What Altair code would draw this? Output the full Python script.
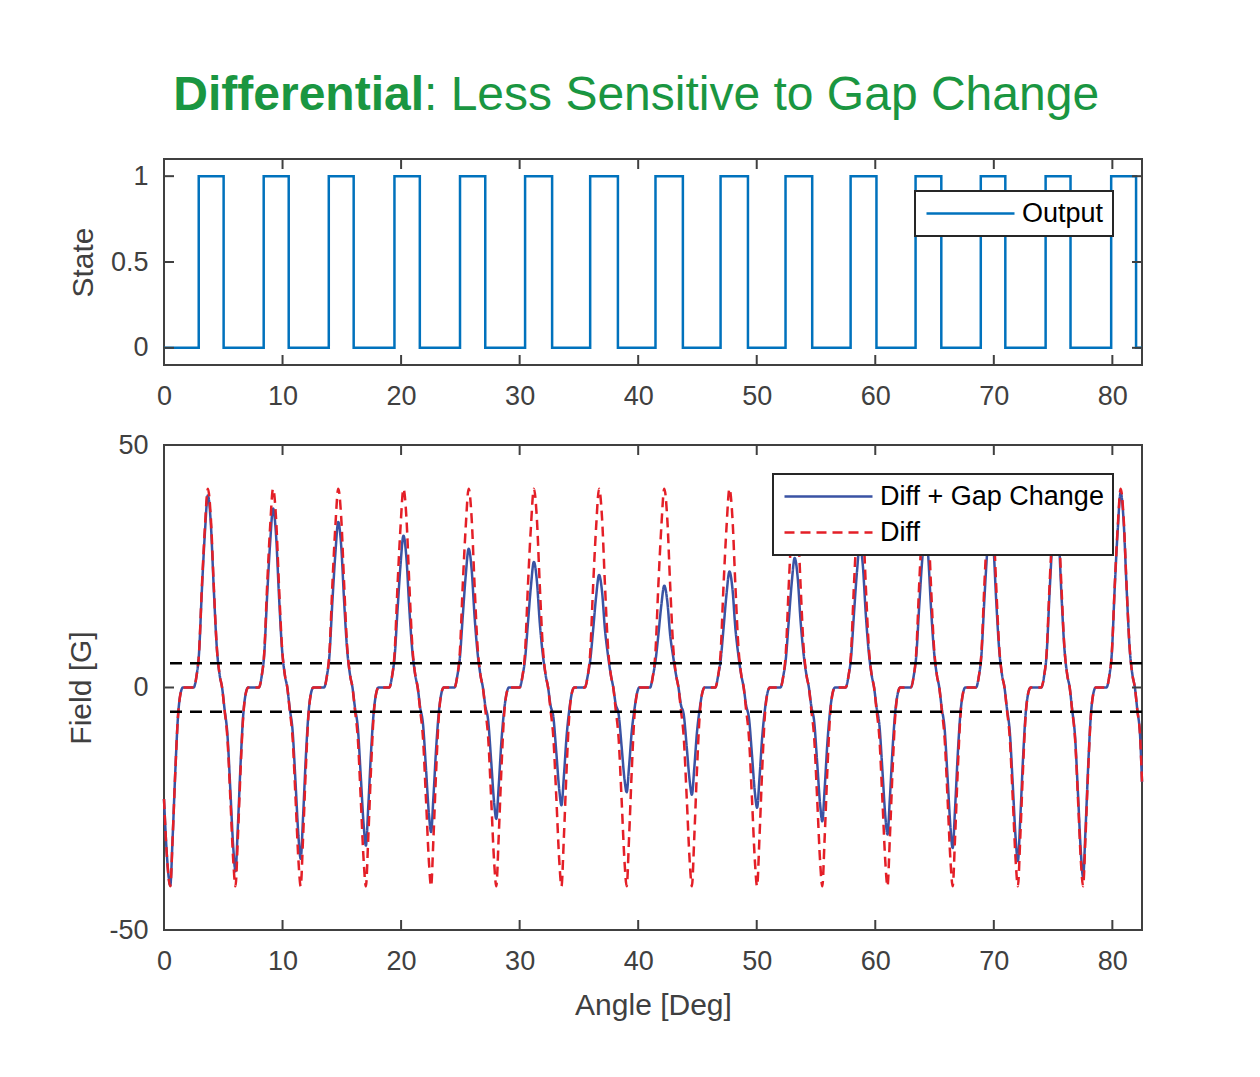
import altair as alt
import pandas as pd

FONT = "Liberation Sans"
AXIS_COLOR = "#404040"
TITLE_COLOR = "#1a9641"
OUT_BLUE = "#0072bd"
GAP_BLUE = "#3a53a4"
DIFF_RED = "#e41f27"

TITLE_BOLD = "Differential"
TITLE_REST = ": Less Sensitive to Gap Change"
X_TITLE = "Angle [Deg]"
TOP_Y_TITLE = "State"
BOT_Y_TITLE = "Field [G]"

SERIES_OUT = "Output"
SERIES_GAP = "Diff + Gap Change"
SERIES_DIFF = "Diff"

x_ticks = [0, 10, 20, 30, 40, 50, 60, 70, 80]
state_ticks = [0, 0.5, 1]
field_ticks = [-50, 0, 50]
thresholds = [5, -5]

# Output state (step)
state_angle = [0, 2.93, 5.03, 8.41, 10.52, 13.90, 16.00, 19.44, 21.58, 24.97, 27.10,
               30.46, 32.74, 35.95, 38.29, 41.46, 43.77, 46.95, 49.26, 52.43, 54.68,
               57.92, 60.10, 63.40, 65.57, 68.90, 70.97, 74.37, 76.47, 79.90, 82.00, 82.50]
state_value = [0, 1, 0, 1, 0, 1, 0, 1, 0, 1, 0, 1, 0, 1, 0, 1, 0, 1, 0, 1, 0,
               1, 0, 1, 0, 1, 0, 1, 0, 1, 0, 0]

# Field curves (one row per tooth cycle)
angle_rows = [
    [0, 0.25, 0.53, 0.73, 0.96, 1.18, 1.4, 1.6, 2.5, 2.75, 2.95, 3.2, 3.45],
    [3.7, 3.95, 4.2, 4.45, 4.7, 4.9, 5.1, 5.35, 5.6, 5.85, 6.03, 6.23, 6.46, 6.68, 6.9, 7.1, 8.0, 8.25, 8.45, 8.7, 8.95],
    [9.2, 9.45, 9.7, 9.95, 10.2, 10.4, 10.6, 10.85, 11.1, 11.35, 11.53, 11.73, 11.96, 12.18, 12.4, 12.6, 13.5, 13.75, 13.95, 14.2, 14.45],
    [14.7, 14.95, 15.2, 15.45, 15.7, 15.9, 16.1, 16.35, 16.6, 16.85, 17.03, 17.23, 17.46, 17.68, 17.9, 18.1, 19.0, 19.25, 19.45, 19.7, 19.95],
    [20.2, 20.45, 20.7, 20.95, 21.2, 21.4, 21.6, 21.85, 22.1, 22.35, 22.53, 22.73, 22.96, 23.18, 23.4, 23.6, 24.5, 24.75, 24.95, 25.2, 25.45],
    [25.7, 25.95, 26.2, 26.45, 26.7, 26.9, 27.1, 27.35, 27.6, 27.85, 28.03, 28.23, 28.46, 28.68, 28.9, 29.1, 30.0, 30.25, 30.45, 30.7, 30.95],
    [31.2, 31.45, 31.7, 31.95, 32.2, 32.4, 32.6, 32.85, 33.1, 33.35, 33.53, 33.73, 33.96, 34.18, 34.4, 34.6, 35.5, 35.75, 35.95, 36.2, 36.45],
    [36.7, 36.95, 37.2, 37.45, 37.7, 37.9, 38.1, 38.35, 38.6, 38.85, 39.03, 39.23, 39.46, 39.68, 39.9, 40.1, 41.0, 41.25, 41.45, 41.7, 41.95],
    [42.2, 42.45, 42.7, 42.95, 43.2, 43.4, 43.6, 43.85, 44.1, 44.35, 44.53, 44.73, 44.96, 45.18, 45.4, 45.6, 46.5, 46.75, 46.95, 47.2, 47.45],
    [47.7, 47.95, 48.2, 48.45, 48.7, 48.9, 49.1, 49.35, 49.6, 49.85, 50.03, 50.23, 50.46, 50.68, 50.9, 51.1, 52.0, 52.25, 52.45, 52.7, 52.95],
    [53.2, 53.45, 53.7, 53.95, 54.2, 54.4, 54.6, 54.85, 55.1, 55.35, 55.53, 55.73, 55.96, 56.18, 56.4, 56.6, 57.5, 57.75, 57.95, 58.2, 58.45],
    [58.7, 58.95, 59.2, 59.45, 59.7, 59.9, 60.1, 60.35, 60.6, 60.85, 61.03, 61.23, 61.46, 61.68, 61.9, 62.1, 63.0, 63.25, 63.45, 63.7, 63.95],
    [64.2, 64.45, 64.7, 64.95, 65.2, 65.4, 65.6, 65.85, 66.1, 66.35, 66.53, 66.73, 66.96, 67.18, 67.4, 67.6, 68.5, 68.75, 68.95, 69.2, 69.45],
    [69.7, 69.95, 70.2, 70.45, 70.7, 70.9, 71.1, 71.35, 71.6, 71.85, 72.03, 72.23, 72.46, 72.68, 72.9, 73.1, 74.0, 74.25, 74.45, 74.7, 74.95],
    [75.2, 75.45, 75.7, 75.95, 76.2, 76.4, 76.6, 76.85, 77.1, 77.35, 77.53, 77.73, 77.96, 78.18, 78.4, 78.6, 79.5, 79.75, 79.95, 80.2, 80.45],
    [80.7, 80.95, 81.2, 81.45, 81.7, 81.9, 82.1, 82.35, 82.5],
]

diff_rows = [
    [-23, -35, -41, -31, -17, -6, -1.2, 0, 0, 2.5, 7, 21, 33],
    [41, 35, 21, 8.5, 2.5, 0, -4.5, -10.5, -23, -36, -41, -31, -17, -6, -1.2, 0, 0, 2.5, 7, 21, 33],
    [41, 35, 21, 8.5, 2.5, 0, -4.5, -10.5, -23, -36, -41, -31, -17, -6, -1.2, 0, 0, 2.5, 7, 21, 33],
    [41, 35, 21, 8.5, 2.5, 0, -4.5, -10.5, -23, -36, -41, -31, -17, -6, -1.2, 0, 0, 2.5, 7, 21, 33],
    [41, 35, 21, 8.5, 2.5, 0, -4.5, -10.5, -23, -36, -41, -31, -17, -6, -1.2, 0, 0, 2.5, 7, 21, 33],
    [41, 35, 21, 8.5, 2.5, 0, -4.5, -10.5, -23, -36, -41, -31, -17, -6, -1.2, 0, 0, 2.5, 7, 21, 33],
    [41, 35, 21, 8.5, 2.5, 0, -4.5, -10.5, -23, -36, -41, -31, -17, -6, -1.2, 0, 0, 2.5, 7, 21, 33],
    [41, 35, 21, 8.5, 2.5, 0, -4.5, -10.5, -23, -36, -41, -31, -17, -6, -1.2, 0, 0, 2.5, 7, 21, 33],
    [41, 35, 21, 8.5, 2.5, 0, -4.5, -10.5, -23, -36, -41, -31, -17, -6, -1.2, 0, 0, 2.5, 7, 21, 33],
    [41, 35, 21, 8.5, 2.5, 0, -4.5, -10.5, -23, -36, -41, -31, -17, -6, -1.2, 0, 0, 2.5, 7, 21, 33],
    [41, 35, 21, 8.5, 2.5, 0, -4.5, -10.5, -23, -36, -41, -31, -17, -6, -1.2, 0, 0, 2.5, 7, 21, 33],
    [41, 35, 21, 8.5, 2.5, 0, -4.5, -10.5, -23, -36, -41, -31, -17, -6, -1.2, 0, 0, 2.5, 7, 21, 33],
    [41, 35, 21, 8.5, 2.5, 0, -4.5, -10.5, -23, -36, -41, -31, -17, -6, -1.2, 0, 0, 2.5, 7, 21, 33],
    [41, 35, 21, 8.5, 2.5, 0, -4.5, -10.5, -23, -36, -41, -31, -17, -6, -1.2, 0, 0, 2.5, 7, 21, 33],
    [41, 35, 21, 8.5, 2.5, 0, -4.5, -10.5, -23, -36, -41, -31, -17, -6, -1.2, 0, 0, 2.5, 7, 21, 33],
    [41, 35, 21, 8.5, 2.5, 0, -4.5, -10.5, -19.5],
]

gap_rows = [
    [-23, -34.8, -40.8, -30.8, -16.9, -6.0, -1.2, 0, 0, 2.5, 6.9, 20.3, 31.9],
    [39.6, 33.8, 20.3, 8.4, 2.5, 0, -4.3, -9.7, -21.3, -33.3, -37.9, -28.7, -15.7, -5.8, -1.2, 0, 0, 2.5, 6.7, 18.9, 29.7],
    [36.9, 31.5, 18.9, 8.1, 2.5, 0, -4.2, -9.0, -19.8, -31.0, -35.3, -26.7, -14.6, -5.6, -1.2, 0, 0, 2.5, 6.4, 17.5, 27.4],
    [34.1, 29.1, 17.5, 7.8, 2.5, 0, -4.0, -8.3, -18.3, -28.6, -32.6, -24.6, -13.5, -5.4, -1.2, 0, 0, 2.5, 6.2, 16.0, 25.2],
    [31.3, 26.7, 16.0, 7.5, 2.5, 0, -3.9, -7.6, -16.7, -26.2, -29.8, -22.5, -12.4, -5.2, -1.2, 0, 0, 2.5, 5.9, 14.6, 23.0],
    [28.6, 24.4, 14.6, 7.2, 2.5, 0, -3.7, -6.9, -15.2, -23.8, -27.1, -20.5, -11.2, -5.0, -1.2, 0, 0, 2.5, 5.7, 13.3, 20.8],
    [25.9, 22.1, 13.3, 6.9, 2.5, 0, -3.6, -6.2, -13.6, -21.3, -24.3, -18.4, -10.1, -4.8, -1.2, 0, 0, 2.5, 5.5, 11.9, 18.7],
    [23.2, 19.8, 11.9, 6.7, 2.5, 0, -3.4, -5.5, -12.1, -19.0, -21.6, -16.3, -9.0, -4.6, -1.2, 0, 0, 2.5, 5.3, 10.8, 16.9],
    [21.0, 17.9, 10.8, 6.4, 2.5, 0, -3.5, -5.7, -12.4, -19.4, -22.1, -16.7, -9.2, -4.6, -1.2, 0, 0, 2.5, 5.5, 12.2, 19.2],
    [23.9, 20.4, 12.2, 6.7, 2.5, 0, -3.6, -6.4, -13.9, -21.8, -24.8, -18.8, -10.3, -4.8, -1.2, 0, 0, 2.5, 5.8, 13.7, 21.5],
    [26.7, 22.8, 13.7, 7.0, 2.5, 0, -3.8, -7.1, -15.5, -24.2, -27.6, -20.9, -11.4, -5.0, -1.2, 0, 0, 2.5, 6.0, 15.1, 23.7],
    [29.5, 25.2, 15.1, 7.3, 2.5, 0, -3.9, -7.8, -17.0, -26.6, -30.3, -22.9, -12.6, -5.2, -1.2, 0, 0, 2.5, 6.3, 16.5, 26.0],
    [32.3, 27.6, 16.5, 7.6, 2.5, 0, -4.1, -8.5, -18.6, -29.1, -33.1, -25.0, -13.7, -5.4, -1.2, 0, 0, 2.5, 6.5, 18.0, 28.3],
    [35.1, 30.0, 18.0, 7.9, 2.5, 0, -4.2, -9.2, -20.1, -31.4, -35.8, -27.1, -14.8, -5.6, -1.2, 0, 0, 2.5, 6.7, 19.4, 30.5],
    [37.9, 32.4, 19.4, 8.2, 2.5, 0, -4.4, -10.0, -21.9, -34.3, -39.1, -29.6, -16.2, -5.9, -1.2, 0, 0, 2.5, 6.9, 20.6, 32.4],
    [40.2, 34.3, 20.6, 8.4, 2.5, 0, -4.5, -10.4, -19.5],
]

angle = [a for row in angle_rows for a in row]
diff = [v for row in diff_rows for v in row]
gap = [v for row in gap_rows for v in row]

W, H1, H2 = 978, 206, 485
TICK = 10

x_scale = alt.Scale(domain=[0, 82.5], nice=False, zero=False)
y1_scale = alt.Scale(domain=[-0.1, 1.1], nice=False, zero=False)
y2_scale = alt.Scale(domain=[-50, 50], nice=False, zero=False)

LABEL_EXPR = "'' + datum.value"

X_AXIS_TOP = alt.Axis(values=x_ticks, labelExpr=LABEL_EXPR, labelFlush=False,
                      labelPadding=18, title=None)
X_AXIS_BOT = alt.Axis(values=x_ticks, labelExpr=LABEL_EXPR, labelFlush=False,
                      labelPadding=18, title=X_TITLE, titlePadding=16)
Y_AXIS_TOP = alt.Axis(values=state_ticks, labelExpr=LABEL_EXPR, labelPadding=16,
                      title=TOP_Y_TITLE, titlePadding=12)
Y_AXIS_BOT = alt.Axis(values=field_ticks, labelExpr=LABEL_EXPR, labelPadding=16,
                      title=BOT_Y_TITLE, titlePadding=12)


def make_legend(lx, ly):
    return alt.Legend(title=None, orient="none", legendX=lx, legendY=ly,
                      symbolType="M-1,0H7", symbolSize=484, symbolStrokeWidth=2.5,
                      labelOffset=71, padding=9, rowPadding=8,
                      labelFont=FONT, labelFontSize=27, labelColor="black",
                      labelLimit=500, strokeColor="#262626", fillColor="white",
                      cornerRadius=0)


def tick_layers(y_values, y_scale, height, x_axis, y_axis):
    xt = pd.DataFrame({"v": x_ticks})
    yt = pd.DataFrame({"v": y_values})
    style = dict(color=AXIS_COLOR, strokeWidth=2)
    xenc = alt.X("v:Q", scale=x_scale, axis=x_axis)
    yenc = alt.Y("v:Q", scale=y_scale, axis=y_axis)
    return [
        alt.Chart(xt).mark_rule(**style).encode(x=xenc, y=alt.value(height), y2=alt.value(height - TICK)),
        alt.Chart(xt).mark_rule(**style).encode(x=xenc, y=alt.value(0), y2=alt.value(TICK)),
        alt.Chart(yt).mark_rule(**style).encode(y=yenc, x=alt.value(0), x2=alt.value(TICK)),
        alt.Chart(yt).mark_rule(**style).encode(y=yenc, x=alt.value(W), x2=alt.value(W - TICK)),
    ]


# ---------------- top panel ----------------
state_df = pd.DataFrame({"Angle": state_angle, "State": state_value, "Series": SERIES_OUT})
state_line = alt.Chart(state_df).mark_line(interpolate="step-after", strokeWidth=2.5).encode(
    x=alt.X("Angle:Q", scale=x_scale, axis=X_AXIS_TOP),
    y=alt.Y("State:Q", scale=y1_scale, axis=Y_AXIS_TOP),
    color=alt.Color("Series:N", scale=alt.Scale(domain=[SERIES_OUT], range=[OUT_BLUE]),
                    legend=make_legend(751, 32)),
)

title_df = pd.DataFrame({"bold": [TITLE_BOLD], "rest": [TITLE_REST]})
title_bold = alt.Chart(title_df).mark_text(
    align="right", baseline="alphabetic", font=FONT, fontSize=48, fontWeight="bold",
    color=TITLE_COLOR).encode(x=alt.value(260), y=alt.value(-49), text="bold:N")
title_rest = alt.Chart(title_df).mark_text(
    align="left", baseline="alphabetic", font=FONT, fontSize=48, fontWeight="normal",
    color=TITLE_COLOR).encode(x=alt.value(260), y=alt.value(-49), text="rest:N")

top = alt.layer(state_line, *tick_layers(state_ticks, y1_scale, H1, X_AXIS_TOP, Y_AXIS_TOP),
                title_bold, title_rest).properties(width=W, height=H1)

# ---------------- bottom panel ----------------
field_df = pd.concat([
    pd.DataFrame({"Angle": angle, "Field": gap, "Series": SERIES_GAP}),
    pd.DataFrame({"Angle": angle, "Field": diff, "Series": SERIES_DIFF}),
], ignore_index=True)

bottom_legend = make_legend(609, 29)
color_enc = alt.Color("Series:N", scale=alt.Scale(domain=[SERIES_GAP, SERIES_DIFF], range=[GAP_BLUE, DIFF_RED]),
                      legend=bottom_legend)
dash_enc = alt.StrokeDash("Series:N", scale=alt.Scale(domain=[SERIES_GAP, SERIES_DIFF], range=[[1, 0], [10, 6]]),
                          legend=bottom_legend)


def field_line(series):
    return alt.Chart(field_df).transform_filter(alt.datum.Series == series).mark_line(
        interpolate="monotone", strokeWidth=2.5).encode(
        x=alt.X("Angle:Q", scale=x_scale, axis=X_AXIS_BOT),
        y=alt.Y("Field:Q", scale=y2_scale, axis=Y_AXIS_BOT),
        color=color_enc,
        strokeDash=dash_enc,
    )


thr = alt.Chart(pd.DataFrame({"v": thresholds})).mark_rule(
    color="black", strokeWidth=2.5, strokeDash=[12, 8]).encode(
    y=alt.Y("v:Q", scale=y2_scale, axis=Y_AXIS_BOT))

bottom = alt.layer(field_line(SERIES_GAP), field_line(SERIES_DIFF), thr,
                   *tick_layers(field_ticks, y2_scale, H2, X_AXIS_BOT, Y_AXIS_BOT)).properties(
    width=W, height=H2)

chart = alt.vconcat(top, bottom, spacing=80, bounds="flush").resolve_scale(
    color="independent", strokeDash="independent").resolve_legend(
    color="independent", strokeDash="independent").properties(
    padding={"left": 57, "top": 63, "right": 5, "bottom": 5},
    background="white",
).configure_view(
    stroke=AXIS_COLOR, strokeWidth=2
).configure_axis(
    domain=False, ticks=False, tickSize=0, grid=False,
    labelFont=FONT, labelFontSize=27, labelColor=AXIS_COLOR,
    titleFont=FONT, titleFontSize=30, titleFontWeight="normal", titleColor=AXIS_COLOR,
).configure_legend(
    strokeWidth=2
)

chart.save("out.html", embed_options={"renderer": "svg", "actions": False})
